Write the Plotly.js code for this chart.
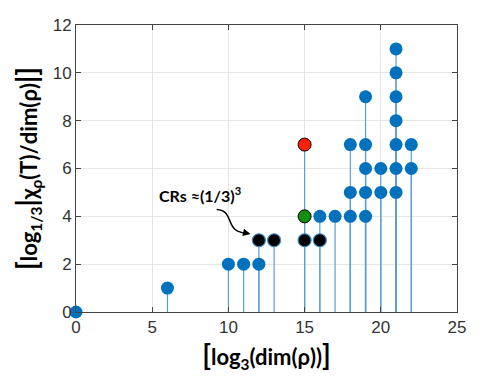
<!DOCTYPE html>
<html>
<head>
<meta charset="utf-8">
<script src="https://cdn.plot.ly/plotly-3.0.1.min.js"></script>
<style>
  html, body { margin: 0; padding: 0; background: #fff; }
  #plot { width: 503px; height: 378px; }
</style>
</head>
<body>
<div id="plot"></div>
<script>
// points of each series (x = log3 dim, y = log1/3 ratio)
let blue_x = [0, 6, 10, 11, 12, 16, 17, 18, 18, 18, 19, 19, 19, 19, 19, 20, 20, 21, 21, 21, 21, 21, 21, 21, 22, 22]
let blue_y = [0, 1, 2, 2, 2, 4, 4, 4, 5, 7, 4, 5, 6, 7, 9, 5, 6, 5, 6, 7, 8, 9, 10, 11, 6, 7]
let black_x = [12, 13, 15, 16]
let black_y = [3, 3, 3, 3]
let green_x = [15]
let green_y = [4]
let red_x = [15]
let red_y = [7]

let x_ticks = [0, 5, 10, 15, 20, 25]
let y_ticks = [0, 2, 4, 6, 8, 10, 12]

// stems: one vertical segment from 0 to every point
function stems(xs, ys) {
  let sx = [], sy = [];
  for (let i = 0; i < xs.length; i++) {
    sx.push(xs[i], xs[i], null);
    sy.push(0, ys[i], null);
  }
  return { x: sx, y: sy };
}

let all_x = blue_x.concat(black_x, green_x, red_x);
let all_y = blue_y.concat(black_y, green_y, red_y);
let st = stems(all_x, all_y);

let stemTrace = {
  x: st.x, y: st.y,
  type: "scatter", mode: "lines",
  line: { color: "#5a9fd4", width: 1.2 },
  hoverinfo: "skip", cliponaxis: false
};

function dots(xs, ys, fill, edge, ew) {
  return {
    x: xs, y: ys, type: "scatter", mode: "markers",
    marker: { size: 13, color: fill, line: { color: edge, width: ew } },
    cliponaxis: false
  };
}

let data = [
  stemTrace,
  dots(blue_x, blue_y, "#0072BD", "#0072BD", 0),
  dots(black_x, black_y, "#000000", "#3a8fd0", 1.2),
  dots(green_x, green_y, "#119011", "#000000", 1),
  dots(red_x, red_y, "#ff2200", "#000000", 1)
];

let tickFont = { family: "Liberation Sans, Arial, sans-serif", size: 17, color: "#333333" };
let titleFont = { family: "Lato, Open Sans, sans-serif", size: 22, color: "#000000" };

let layout = {
  width: 503, height: 378,
  margin: { l: 76, r: 46, t: 25, b: 66 },
  paper_bgcolor: "#ffffff", plot_bgcolor: "#ffffff",
  showlegend: false,
  xaxis: {
    range: [0, 25], tickvals: x_ticks, ticks: "inside", ticklen: 5,
    tickcolor: "#444", showline: true, linecolor: "#444", linewidth: 1, mirror: "ticks",
    showgrid: true, gridcolor: "#e6e6e6", zeroline: false, tickfont: tickFont,
    title: { text: "<b><span style='font-size:28px'>[</span>log<sub>3</sub>(dim(ρ))<span style='font-size:28px'>]</span></b>", font: titleFont, standoff: 5 }
  },
  yaxis: {
    range: [0, 12], tickvals: y_ticks, ticks: "inside", ticklen: 5,
    tickcolor: "#444", showline: true, linecolor: "#444", linewidth: 1, mirror: "ticks",
    showgrid: true, gridcolor: "#e6e6e6", zeroline: false, tickfont: tickFont,
    title: { text: "<b><span style='font-size:28px'>[</span>log<sub>1/3</sub><span style='font-size:28px'>|</span>χ<sub>ρ</sub>(T)/dim(ρ)<span style='font-size:28px'>|]</span></b>", font: titleFont, standoff: 8 }
  },
  annotations: [
    {
      x: 5.3, y: 4.9, xref: "x", yref: "y", xanchor: "left", yanchor: "middle",
      text: "<b>CRs ≈(1/3)<sup>3</sup></b>", showarrow: false,
      font: { family: "Lato, Open Sans, sans-serif", size: 16, color: "#000" }
    },
    {
      x: 11.45, y: 3.26, xref: "x", yref: "y", ax: -9, ay: -2,
      text: "", showarrow: true, arrowhead: 2, arrowsize: 1, arrowwidth: 1.5, arrowcolor: "#000"
    }
  ],
  shapes: [
    {
      type: "path", xref: "x", yref: "y",
      path: "M 9.23,4.29 C 10.3,4.25 9.9,3.55 10.6,3.38 C 10.9,3.3 11.1,3.28 11.3,3.27",
      line: { color: "#000", width: 1.5 }
    }
  ]
};

Plotly.newPlot("plot", data, layout, { displayModeBar: false, staticPlot: true });
</script>
</body>
</html>
